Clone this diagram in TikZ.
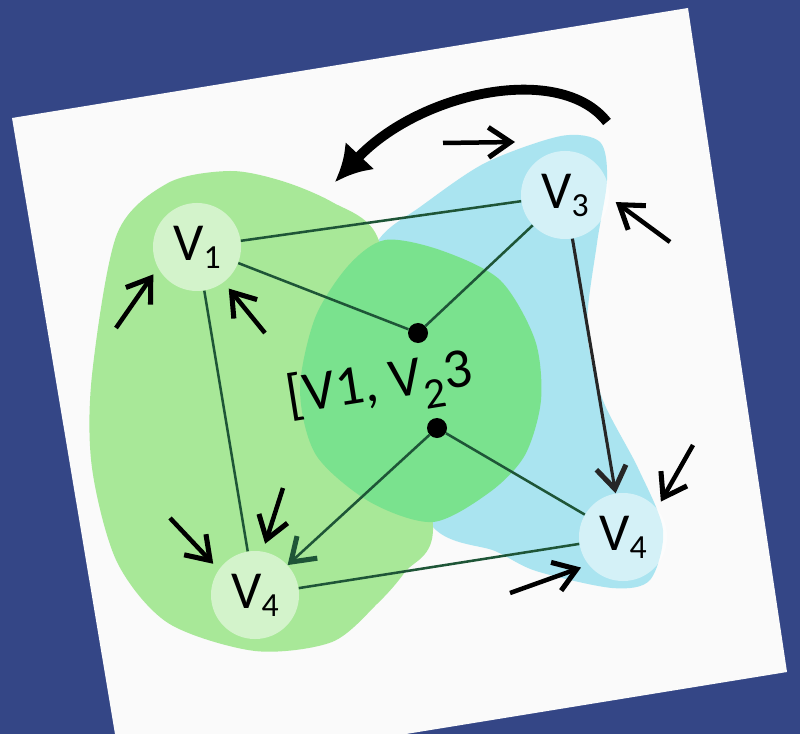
\documentclass[tikz,border=0pt]{standalone}
\usepackage{fontspec}
\setmainfont{Carlito}
\usetikzlibrary{arrows.meta}
\definecolor{bgblue}{RGB}{52,70,134}
\definecolor{card}{RGB}{250,250,250}
\definecolor{lgreen}{RGB}{168,232,152}
\definecolor{dgreen}{RGB}{122,226,142}
\definecolor{lblue}{RGB}{170,228,240}
\definecolor{edgegreen}{RGB}{30,85,55}
\newcommand{\vlab}[1]{V\raisebox{-0.15em}{\fontsize{24}{24}\selectfont #1}}

\begin{document}
\begin{tikzpicture}[
  x=0.025cm, y=-0.025cm,
  vtx/.style={circle, fill=white, fill opacity=0.5, text opacity=1, minimum size=2.2cm, inner sep=0pt, font=\fontsize{38}{38}\selectfont},
  hub/.style={circle, fill=black, minimum size=5mm, inner sep=0pt},
  edge/.style={line width=1.8pt, draw=edgegreen},
  tip/.style={-{Straight Barb[length=5.5mm,width=7.5mm,line width=3.6pt]}},
  loose/.style={tip, line width=3.2pt, shorten >=2mm},
  swing/.style={-{Latex[length=9mm,width=10mm]}, line width=7pt}]
\useasboundingbox (0,0) rectangle (800,734);
\fill[bgblue] (0,0) rectangle (800,734);
\fill[card] (12,118) -- (688,8) -- (787,672) -- (406,734) -- (115,734) -- cycle;

% blobs
\fill[lblue] plot[smooth cycle] coordinates {(380,238) (420,207) (485,163) (561,136) (600,142) (607,180) (597,243) (587,328) (602,398) (638,468) (663,530) (650,580) (612,588) (536,571) (495,551) (433,527) (380,420) (350,300)};
\fill[lgreen] plot[smooth cycle] coordinates {(168,183) (230,171) (282,181) (332,202) (377,236) (400,350) (433,527) (405,572) (378,603) (332,642) (255,651) (168,623) (117,562) (92,468) (92,375) (117,234)};
\fill[dgreen] plot[smooth cycle] coordinates {(315,318) (348,266) (385,240) (440,250) (500,280) (535,340) (541,400) (525,455) (490,492) (433,522) (370,502) (316,455) (300,390)};

\node[vtx] (v1) at (197,247) {\vlab{1}};
\node[vtx] (v3) at (565,195) {\vlab{3}};
\node[vtx] (v4l) at (255,595) {\vlab{4}};
\node[vtx] (v4r) at (623,537) {\vlab{4}};
\node[hub] (d1) at (418,333) {};
\node[hub] (d2) at (437,428) {};
\node[rotate=9, font=\fontsize{40}{40}\selectfont] (lab) at (380,388) {[V1, V\raisebox{-0.3em}{\fontsize{31}{31}\selectfont 2}3};

\draw[edge] (v1) -- (v3);
\draw[edge] (v1) -- (d1);
\draw[edge] (v3) -- (d1);
\draw[edge] (v1) -- (v4l);
\draw[edge] (d2) -- (v4r);
\draw[edge] (v4l) -- (v4r);
\draw[edge, tip] (d2) -- (v4l);
\draw[edge, tip, draw=black!85, line width=2.2pt] (v3) -- (v4r);

% loose arrows
\coordinate (t1) at (116,328);
\coordinate (t2) at (265,333);
\coordinate (t3) at (170,518);
\coordinate (t4) at (283,488);
\coordinate (t5) at (693,445);
\coordinate (t6) at (510,593);
\coordinate (t7) at (670,242);
\coordinate (t8) at (443,143);
\coordinate (t8e) at (515,142);
\draw[loose] (t1) -- (v1.208);
\draw[loose] (t2) -- (v1.307);
\draw[loose] (t3) -- (v4l.145);
\draw[loose] (t4) -- (v4l.80);
\draw[loose] (t5) -- (v4r.40);
\draw[loose] (t6) -- (v4r.219);
\draw[loose] (t7) -- (v3.357);
\draw[loose, shorten >=0pt] (t8) -- (t8e);

\coordinate (s0) at (607,122);
\coordinate (s1) at (335,182);
\draw[swing] (s0) .. controls (560,62) and (420,92) .. (s1);
\end{tikzpicture}
\end{document}
